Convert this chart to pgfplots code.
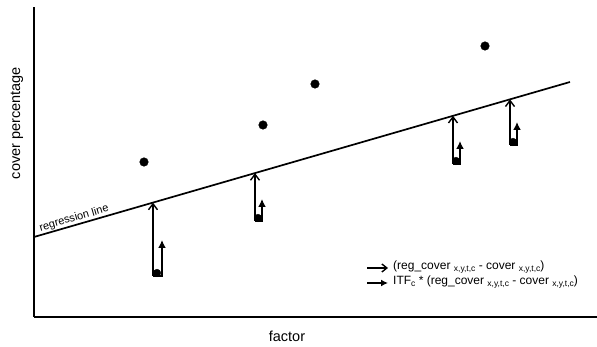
\documentclass[border=0pt]{standalone}
\usepackage{pgfplots}
\pgfplotsset{compat=1.18}
\usetikzlibrary{arrows.meta}
\usepackage{fontspec}
\setmainfont{Liberation Sans}
\newcommand{\sub}[1]{\raisebox{-0.35ex}{\fontsize{8.5}{9}\selectfont #1}}
\begin{document}
\begin{tikzpicture}
\begin{axis}[
  scale only axis, width=563pt, height=310pt,
  xmin=34, xmax=597, ymin=30, ymax=340,
  axis lines*=left,
  xtick=\empty, ytick=\empty,
  axis line style={line width=2.2pt},
  clip=false,
]
% regression line
\addplot[black, line width=1.7pt] coordinates {(34,110) (570,265)};
% observed points above the line
\addplot[only marks, mark=*, mark size=4.3pt, black] coordinates {(144,185) (263,222) (315,263) (485,301)};
% long arrows: (reg_cover - cover)
\addplot[black, line width=1.4pt, -{Straight Barb[length=6pt,width=9pt,line width=1.4pt]}] coordinates {(153,71) (153,144.4)};
\addplot[black, line width=1.4pt, -{Straight Barb[length=6pt,width=9pt,line width=1.4pt]}] coordinates {(255,126) (255,173.9)};
\addplot[black, line width=1.4pt, -{Straight Barb[length=6pt,width=9pt,line width=1.4pt]}] coordinates {(453,183) (453,231.2)};
\addplot[black, line width=1.4pt, -{Straight Barb[length=6pt,width=9pt,line width=1.4pt]}] coordinates {(510,202) (510,247.6)};
% short arrows: ITF_c * (reg_cover - cover)
\addplot[black, line width=2.2pt, -{Latex[length=8pt,width=8pt]}] coordinates {(153,71) (162,71) (162,107)};
\addplot[black, line width=2.2pt, -{Latex[length=8pt,width=8pt]}] coordinates {(255,126) (262,126) (262,148)};
\addplot[black, line width=2.2pt, -{Latex[length=8pt,width=8pt]}] coordinates {(453,183) (460,183) (460,206)};
\addplot[black, line width=2.2pt, -{Latex[length=8pt,width=8pt]}] coordinates {(510,202) (517,202) (517,225)};
% observed points below the line
\addplot[only marks, mark=*, mark size=3.8pt, black] coordinates {(157,74) (258,129) (456,186) (513,205)};
% legend arrows
\addplot[black, line width=1.4pt, -{Straight Barb[length=5pt,width=8pt,line width=1.4pt]}] coordinates {(367,79) (388,79)};
\addplot[black, line width=2pt, -{Latex[length=7pt,width=7pt]}] coordinates {(367,64) (388,64)};
\node[anchor=west, inner sep=0pt, font=\fontsize{12}{13}\selectfont] at (axis cs:393,80) {(reg\_cover \sub{x,y,t,c} - cover \sub{x,y,t,c})};
\node[anchor=west, inner sep=0pt, font=\fontsize{12}{13}\selectfont] at (axis cs:393,65) {ITF\sub{c} * (reg\_cover \sub{x,y,t,c} - cover \sub{x,y,t,c})};
% regression line label
\node[anchor=south, inner sep=1.5pt, rotate=16.1, font=\fontsize{11}{12}\selectfont] at (axis cs:76,122) {regression line};
% axis labels
\node[font=\fontsize{14.5}{16}\selectfont] at (axis cs:287,11) {factor};
\node[rotate=90, font=\fontsize{14.5}{16}\selectfont] at (axis cs:17,224) {cover percentage};
\end{axis}
\pgfresetboundingbox
\path[use as bounding box] ([shift={(-34pt,-30pt)}]current axis.south west) rectangle ([shift={(0pt,7pt)}]current axis.north east);
\end{tikzpicture}
\end{document}
